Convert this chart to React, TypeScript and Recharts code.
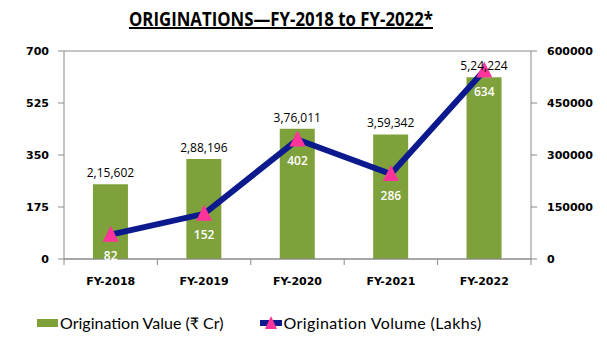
import { Bar, CartesianGrid, ComposedChart, LabelList, Line, XAxis, YAxis } from "recharts";

const years = ["FY-2018", "FY-2019", "FY-2020", "FY-2021", "FY-2022"];
const originationValue = [215602, 288196, 376011, 359342, 524224];
const originationVolume = [82, 152, 402, 286, 634];
const leftTicks = [0, 175, 350, 525, 700];
const rightTicks = [0, 150000, 300000, 450000, 600000];

const GREEN = "#7fa13b";
const NAVY = "#0c1a8e";
const PINK = "#ff3399";
const GRID = "#8a8a8a";

const data = years.map((year, i) => ({
  year,
  value: originationValue[i],
  volume: originationVolume[i],
}));

// 215602 -> 2,15,602
function formatIndian(n: number) {
  const s = String(Math.round(n));
  if (s.length <= 3) return s;
  const last = s.slice(-3);
  const rest = s.slice(0, -3).replace(/\B(?=(\d{2})+(?!\d))/g, ",");
  return rest + "," + last;
}

function Triangle(props: any) {
  const { cx, cy } = props;
  if (cx == null || cy == null) return null;
  return (
    <polygon
      points={`${cx},${cy - 9} ${cx - 8},${cy + 7} ${cx + 8},${cy + 7}`}
      fill={PINK}
    />
  );
}

function YearTick(props: any) {
  const { x, y, payload, index, visibleTicksCount } = props;
  const half = payload?.offset ?? 46.7;
  const isLast = index === (visibleTicksCount ?? years.length) - 1;
  return (
    <g>
      <line x1={x - half} x2={x - half} y1={y - 8} y2={y - 2} stroke={GRID} />
      {isLast && (
        <line x1={x + half} x2={x + half} y1={y - 8} y2={y - 2} stroke={GRID} />
      )}
      <text
        x={x}
        y={y + 18}
        textAnchor="middle"
        fontFamily="DejaVu Sans"
        fontWeight="bold"
        fontSize={11}
        fill="#000"
      >
        {payload.value}
      </text>
    </g>
  );
}

const tickStyle = {
  fontFamily: "DejaVu Sans",
  fontWeight: "bold" as const,
  fontSize: 11,
  fill: "#000",
};

export default function App() {
  return (
    <div
      style={{
        position: "absolute",
        left: 0,
        top: 0,
        width: 607,
        height: 340,
        background: "#fff",
      }}
    >
      <div
        style={{
          position: "absolute",
          top: 5,
          left: 0,
          width: 561,
          textAlign: "center",
        }}
      >
        <span
          style={{
            display: "inline-block",
            transform: "scaleX(0.84)",
            transformOrigin: "center",
            fontFamily: "'Open Sans', sans-serif",
            fontWeight: "bold",
            fontSize: 20,
            textDecoration: "underline",
            color: "#000",
            whiteSpace: "nowrap",
          }}
        >
          ORIGINATIONS—FY-2018 to FY-2022*
        </span>
      </div>
      <ComposedChart
        width={607}
        height={340}
        data={data}
        margin={{ top: 51, right: 0, left: 0, bottom: 51 }}
        barCategoryGap="31%"
      >
        <CartesianGrid vertical={false} stroke={GRID} />
        <XAxis
          dataKey="year"
          height={30}
          stroke={GRID}
          tickLine={false}
          tick={<YearTick />}
          interval={0}
        />
        <YAxis
          yAxisId="left"
          width={64}
          domain={[0, 700]}
          ticks={leftTicks}
          stroke={GRID}
          tickSize={6}
          tickMargin={9}
          tick={tickStyle}
        />
        <YAxis
          yAxisId="right"
          orientation="right"
          width={76}
          domain={[0, 600000]}
          ticks={rightTicks}
          stroke={GRID}
          tickSize={6}
          tickMargin={10}
          tick={tickStyle}
        />
        <Bar yAxisId="right" dataKey="value" fill={GREEN} isAnimationActive={false}>
          <LabelList
            dataKey="value"
            position="top"
            offset={7}
            formatter={(v: any) => formatIndian(Number(v))}
            style={{ fontFamily: "Open Sans", fontSize: 12, fill: "#000" }}
          />
        </Bar>
        <Line
          yAxisId="left"
          dataKey="volume"
          stroke={NAVY}
          strokeWidth={6}
          dot={<Triangle />}
          activeDot={false}
          isAnimationActive={false}
        >
          <LabelList
            dataKey="volume"
            position="bottom"
            offset={17}
            style={{ fontFamily: "Open Sans", fontSize: 12, fill: "#fff", fontWeight: 600 }}
          />
        </Line>
      </ComposedChart>
      <div
        style={{
          position: "absolute",
          top: 313,
          left: 37,
          display: "flex",
          alignItems: "center",
          fontFamily: "Lato, sans-serif",
          fontSize: 16,
          color: "#000",
          whiteSpace: "nowrap",
        }}
      >
        <span style={{ display: "inline-block", width: 21, height: 8, background: GREEN }} />
        <span style={{ marginLeft: 2 }}>Origination Value (₹ Cr)</span>
        <svg width={22} height={16} style={{ marginLeft: 36 }}>
          <rect x={0} y={5} width={22} height={6} fill={NAVY} />
          <polygon points="11,1 5,14 17,14" fill={PINK} />
        </svg>
        <span style={{ marginLeft: 2, letterSpacing: 0.4 }}>Origination Volume (Lakhs)</span>
      </div>
    </div>
  );
}
